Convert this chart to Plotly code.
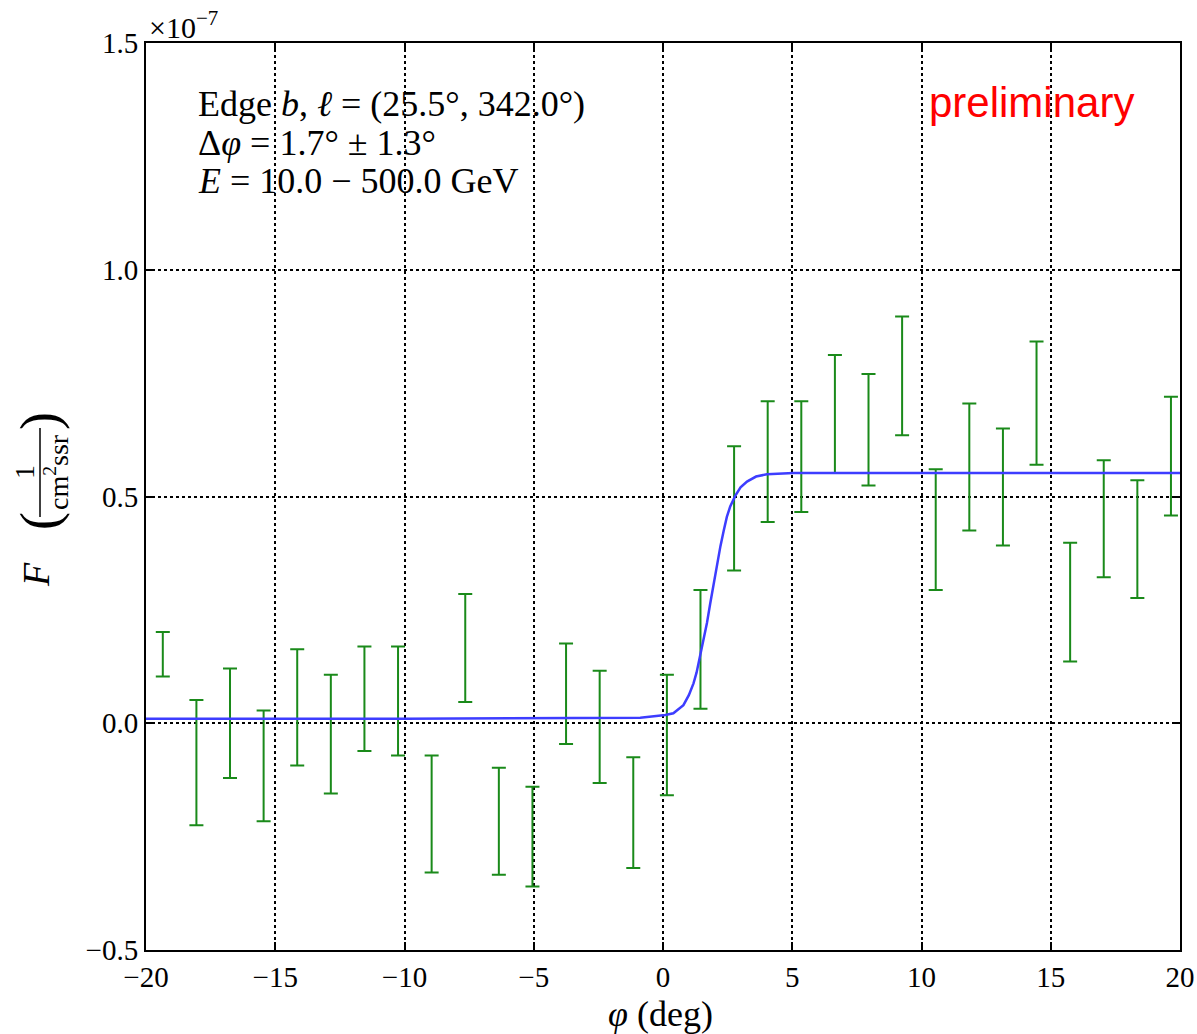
import plotly.graph_objects as go

# ---- data (flux in units of 1e-7 / (cm^2 s sr)) ----
phi = [-19.35, -18.05, -16.75, -15.45, -14.15, -12.85, -11.55, -10.25, -8.95, -7.65,
       -6.35, -5.05, -3.75, -2.45, -1.15, 0.15, 1.45, 2.75, 4.05, 5.35,
       6.65, 7.95, 9.25, 10.55, 11.85, 13.15, 14.45, 15.75, 17.05, 18.35, 19.65]
flux = [0.152, -0.087, 0.000, -0.094, 0.035, -0.024, 0.054, 0.049, -0.200, 0.166,
        -0.216, -0.250, 0.065, -0.008, -0.197, -0.026, 0.163, 0.474, 0.577, 0.588,
        0.682, 0.647, 0.766, 0.427, 0.565, 0.521, 0.706, 0.267, 0.451, 0.406, 0.589]
flux_err = [0.049, 0.138, 0.121, 0.122, 0.128, 0.131, 0.115, 0.120, 0.129, 0.119,
            0.118, 0.110, 0.111, 0.124, 0.122, 0.133, 0.131, 0.137, 0.133, 0.122,
            0.130, 0.123, 0.131, 0.133, 0.140, 0.129, 0.136, 0.131, 0.129, 0.130, 0.131]

# fitted edge model
fit_phi = [-20.0, -10.0, -0.88, 0.09, 0.40, 0.79, 1.00, 1.18, 1.30, 1.44, 1.57, 1.70,
           1.83, 1.96, 2.09, 2.22, 2.35, 2.47, 2.60, 2.80, 3.00, 3.25, 3.60, 4.02,
           5.05, 10.0, 20.0]
fit_flux = [0.010, 0.010, 0.012, 0.018, 0.022, 0.040, 0.062, 0.088, 0.112, 0.148,
            0.183, 0.221, 0.265, 0.308, 0.350, 0.390, 0.425, 0.455, 0.478, 0.502,
            0.520, 0.533, 0.544, 0.549, 0.552, 0.552, 0.552]

x_ticks = [-20, -15, -10, -5, 0, 5, 10, 15, 20]
y_ticks = [-0.5, 0.0, 0.5, 1.0, 1.5]
y_tick_text = ["\u22120.5", "0.0", "0.5", "1.0", "1.5"]

FONT = "Liberation Serif, DejaVu Serif, serif"

# layout geometry (pixels)
W, H = 1197, 1034
ML, MR, MT, MB = 146, 17, 43, 84
PW, PH = W - ML - MR, H - MT - MB


def px(xp):
    return (xp - ML) / PW


def py(yp):
    return (H - MB - yp) / PH


fig = go.Figure()
fig.add_trace(go.Scatter(
    x=phi, y=flux, mode="markers",
    marker=dict(size=1, color="rgba(0,0,0,0)"),
    error_y=dict(type="data", array=flux_err, visible=True,
                 color="#1a8a1a", thickness=2, width=7),
    showlegend=False, hoverinfo="skip"))
fig.add_trace(go.Scatter(
    x=fit_phi, y=fit_flux, mode="lines", line=dict(color="#3d3dff", width=2.5),
    showlegend=False))

axis_common = dict(
    showline=True, linecolor="black", linewidth=2, mirror="ticks",
    ticks="inside", ticklen=8, tickwidth=1.5, tickcolor="black",
    showgrid=True, gridcolor="black", gridwidth=1.5, griddash="dot",
    zeroline=False, automargin=False,
    tickfont=dict(family=FONT, size=29, color="black"),
)
fig.update_xaxes(range=[-20, 20], tickvals=x_ticks, **axis_common)
fig.update_yaxes(range=[-0.5, 1.5], tickvals=y_ticks, ticktext=y_tick_text, **axis_common)


def ann(x, y, text, size, color="black", family=FONT, angle=0, xanchor="center"):
    return dict(xref="paper", yref="paper", x=px(x), y=py(y), xanchor=xanchor,
                yanchor="middle", text=text, showarrow=False, textangle=angle,
                font=dict(family=family, size=size, color=color))


annotations = [
    ann(147, 25, "\u00d710<sup>\u22127</sup>", 30, xanchor="left"),
    ann(196, 104, "Edge <i>b</i>, <i>\u2113</i> = (25.5\u00b0, 342.0\u00b0)", 36, xanchor="left"),
    ann(196, 143, "\u0394<i>\u03c6</i> = 1.7\u00b0 \u00b1 1.3\u00b0", 36, xanchor="left"),
    ann(196, 181, "<i>E</i> = 10.0 \u2212 500.0 GeV", 36, xanchor="left"),
    ann(1031, 102, "preliminary", 42, color="red",
        family="Liberation Sans, Arial, sans-serif"),
    ann(660, 1014, "<i>\u03c6</i> (deg)", 36),
    # y-axis label: F ( 1 / cm^2 s sr )
    ann(36, 575, "<i>F</i>", 38, angle=-90),
    ann(40, 521, "(", 54, angle=-90),
    ann(40, 421, ")", 54, angle=-90),
    ann(24, 472, "1", 28, angle=-90),
    ann(56, 472, "cm<sup>2</sup>ssr", 28, angle=-90),
]

fig.update_layout(
    width=W, height=H,
    margin=dict(l=ML, r=MR, t=MT, b=MB),
    plot_bgcolor="white", paper_bgcolor="white",
    font=dict(family=FONT, color="black"),
    annotations=annotations,
    shapes=[dict(type="line", xref="paper", yref="paper",
                 x0=px(40), x1=px(40), y0=py(428), y1=py(517),
                 line=dict(color="black", width=1.5))],
)

fig.write_html("out.html")
